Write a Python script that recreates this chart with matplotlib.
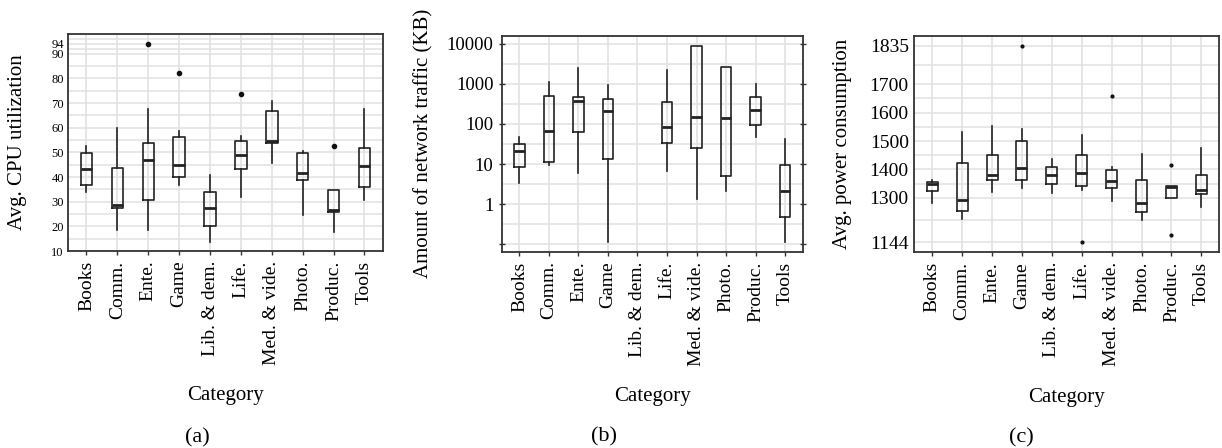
import matplotlib
matplotlib.use("Agg")
import matplotlib.pyplot as plt
from matplotlib.ticker import FixedLocator, LogLocator, NullFormatter
import numpy as np

plt.rcParams['font.family'] = ['Liberation Serif', 'DejaVu Serif']

categories = ["Books", "Comm.", "Ente.", "Game", "Lib. & dem.", "Life.",
              "Med. & vide.", "Photo.", "Produc.", "Tools"]

# Panel (a): Avg. CPU utilization
cpu_whislo = [33.8, 18.7, 18.7, 36.8, 13.7, 31.9, 45.6, 24.7, 17.7, 30.7]
cpu_q1     = [36.8, 27.6, 30.7, 40.2, 20.3, 43.4, 53.6, 38.7, 25.7, 36.1]
cpu_med    = [43.3, 28.5, 46.8, 44.9, 27.4, 48.8, 54.5, 41.8, 26.5, 44.3]
cpu_q3     = [49.9, 43.8, 53.7, 56.1, 33.9, 54.5, 66.8, 49.8, 34.8, 51.8]
cpu_whishi = [52.7, 59.7, 67.6, 58.6, 40.7, 56.6, 70.7, 50.5, 34.8, 67.6]
cpu_fliers = [[], [], [94], [82], [], [73.7], [], [], [52.7], []]
cpu_ticks = [10, 20, 30, 40, 50, 60, 70, 80, 90, 94]

# Panel (b): Amount of network traffic (KB); Lib. & dem. has no data
net_whislo = [3.3, 9.7, 5.9, 0.118, None, 6.9, 1.36, 2.15, 46.6, 0.113]
net_q1     = [8.3, 11.3, 63, 13.7, None, 34.3, 25.3, 5.2, 96, 0.49]
net_med    = [21.7, 68, 367, 207, None, 86, 152, 138, 223, 2.19]
net_q3     = [31.8, 489, 480, 419, None, 353, 8590, 2670, 470, 9.7]
net_whishi = [46.6, 1090, 2430, 935, None, 2170, 8590, 2670, 1010, 42.4]
net_ticks = [0.1, 1, 10, 100, 1000, 10000]
net_ticklabels = ["", "1", "10", "100", "1000", "10000"]

# Panel (c): Avg. power consumption
pow_whislo = [1281, 1226, 1321, 1334, 1316, 1327, 1290, 1223, 1301, 1269]
pow_q1     = [1326, 1253, 1363, 1362, 1348, 1341, 1334, 1250, 1301, 1315]
pow_med    = [1348, 1294, 1381, 1404, 1380, 1389, 1361, 1283, 1340, 1327]
pow_q3     = [1357, 1424, 1450, 1499, 1410, 1450, 1398, 1364, 1341, 1380]
pow_whishi = [1363, 1531, 1553, 1542, 1438, 1521, 1410, 1454, 1341, 1474]
pow_fliers = [[], [], [], [1835], [], [1144], [1660], [], [1416, 1170], []]
pow_ticks = [1144, 1300, 1400, 1500, 1600, 1700, 1835]

fig = plt.figure(figsize=(12.22, 4.48), dpi=100)
axa = fig.add_axes([0.0556, 0.4397, 0.2578, 0.4844])
axb = fig.add_axes([0.4106, 0.4382, 0.2463, 0.4815])
axc = fig.add_axes([0.7482, 0.4368, 0.2496, 0.4828])

GRID = '#e2e2e2'


def draw(ax, lo, q1, med, q3, hi, fliers, flier_size):
    stats, pos = [], []
    for i in range(len(categories)):
        if med[i] is None:
            continue
        stats.append(dict(whislo=lo[i], q1=q1[i], med=med[i], q3=q3[i],
                          whishi=hi[i], fliers=fliers[i] if fliers else []))
        pos.append(i + 1)
    ax.bxp(stats, positions=pos, widths=0.37, showcaps=False,
           boxprops=dict(color='#222222', linewidth=1.2),
           whiskerprops=dict(color='#222222', linewidth=1.2),
           medianprops=dict(color='#222222', linewidth=2.0),
           flierprops=dict(marker='o', markerfacecolor='#111111',
                           markeredgecolor='#111111', markersize=flier_size),
           zorder=3)
    ax.set_xlim(0.4, 10.6)
    ax.set_xticks(range(1, len(categories) + 1))
    ax.set_xticklabels(categories, rotation=90, fontsize=14)
    ax.xaxis.grid(True, color=GRID, linewidth=1.2, zorder=0)
    for s in ax.spines.values():
        s.set_linewidth(1.3)
        s.set_color('#333333')
    ax.tick_params(axis='x', length=3, width=1, color='#333333', pad=4)
    ax.set_xlabel("Category", fontsize=15, labelpad=15.5)
    ax.set_axisbelow(True)


def midpoints(ticks):
    return [(a + b) / 2 for a, b in zip(ticks[:-1], ticks[1:])]


# (a)
draw(axa, cpu_whislo, cpu_q1, cpu_med, cpu_q3, cpu_whishi, cpu_fliers, 3.0)
axa.set_ylim(10, 98)
axa.set_yticks(cpu_ticks)
axa.yaxis.set_minor_locator(FixedLocator(midpoints(cpu_ticks) + [96]))
axa.yaxis.grid(True, which='both', color=GRID, linewidth=1.1, zorder=0)
axa.tick_params(axis='y', which='major', labelsize=9, length=0, pad=3)
axa.tick_params(axis='y', which='minor', length=0)
axa.set_ylabel("Avg. CPU utilization", fontsize=15)
axa.yaxis.set_label_coords(-0.130, 0.5)
axa.text(0.41, -0.859, "(a)", transform=axa.transAxes, ha='center',
         va='center', fontsize=16)

# (b)
draw(axb, net_whislo, net_q1, net_med, net_q3, net_whishi, None, 3.0)
axb.set_yscale('log')
axb.set_ylim(0.066, 15500)
axb.set_yticks(net_ticks)
axb.set_yticklabels(net_ticklabels)
axb.yaxis.set_minor_locator(LogLocator(base=10, subs=np.arange(2, 10)))
axb.yaxis.set_minor_formatter(NullFormatter())
axb.yaxis.grid(True, which='major', color=GRID, linewidth=1.1, zorder=0)
for k in range(-2, 5):
    v = 10 ** (k + 0.5)
    if 0.066 < v < 15500:
        axb.axhline(v, color=GRID, linewidth=1.1, zorder=0)
axb.tick_params(axis='y', which='major', labelsize=13.5, length=5,
                direction='inout', width=1, color='#333333', right=True)
axb.tick_params(axis='y', which='minor', length=2.5, direction='in',
                width=0.8, color='#333333', right=True)
axb.set_ylabel("Amount of network traffic (KB)", fontsize=15)
axb.yaxis.set_label_coords(-0.228, 0.5)
axb.text(0.34, -0.859, "(b)", transform=axb.transAxes, ha='center',
         va='center', fontsize=16)

# (c)
draw(axc, pow_whislo, pow_q1, pow_med, pow_q3, pow_whishi, pow_fliers, 2.0)
axc.set_ylim(1109, 1869)
axc.set_yticks(pow_ticks)
axc.yaxis.set_minor_locator(FixedLocator(midpoints(pow_ticks)))
axc.yaxis.grid(True, which='both', color=GRID, linewidth=1.1, zorder=0)
axc.tick_params(axis='y', which='major', labelsize=14, length=0, pad=4)
axc.tick_params(axis='y', which='minor', length=0)
axc.set_ylabel("Avg. power consumption", fontsize=15)
axc.yaxis.set_label_coords(-0.205, 0.5)
axc.text(0.35, -0.859, "(c)", transform=axc.transAxes, ha='center',
         va='center', fontsize=16)

fig.savefig("out.png", dpi=100)
